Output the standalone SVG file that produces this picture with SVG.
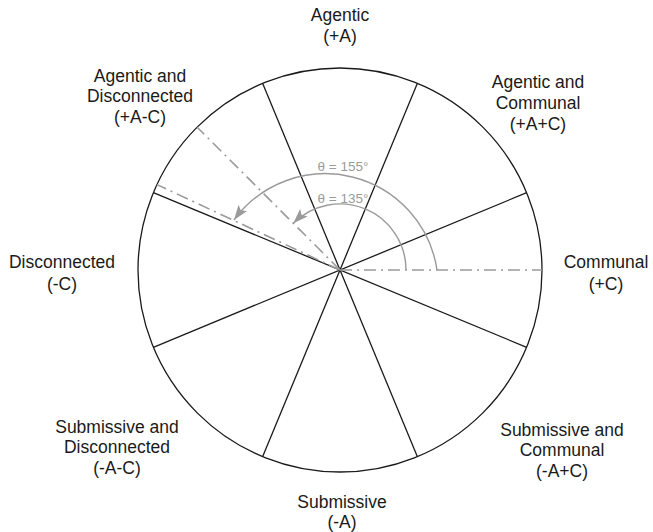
<svg xmlns="http://www.w3.org/2000/svg" width="653" height="532" viewBox="0 0 653 532">
<style>
.lbl{font-family:"Liberation Sans",Arial,sans-serif;font-size:17.5px;fill:#1a1a1a;text-anchor:middle}
.th{font-family:"Liberation Sans",Arial,sans-serif;font-size:13.5px;fill:#9a9a9a;text-anchor:middle}
.sec{stroke:#1a1a1a;stroke-width:1.3;fill:none}
.dd{stroke:#9a9a9a;stroke-width:1.6;fill:none;stroke-dasharray:12 5 2 5}
.arc{stroke:#9a9a9a;stroke-width:1.4;fill:none;marker-end:url(#ah)}
</style>
<defs>
<marker id="ah" markerUnits="userSpaceOnUse" markerWidth="16" markerHeight="12" refX="14" refY="5" orient="auto" viewBox="0 0 15 10">
<path d="M0,0 L14,5 L0,10 L3,5 Z" fill="#9a9a9a"/>
</marker>
</defs>
<rect width="653" height="532" fill="#fff"/>
<g id="wheel">
<circle cx="340" cy="270" r="202" class="sec" stroke-width="1.5"/>
<line x1="526.62" y1="192.70" x2="153.38" y2="347.30" class="sec"/>
<line x1="417.30" y1="83.38" x2="262.70" y2="456.62" class="sec"/>
<line x1="262.70" y1="83.38" x2="417.30" y2="456.62" class="sec"/>
<line x1="153.38" y1="192.70" x2="526.62" y2="347.30" class="sec"/>
</g>
<g id="connectors">
<line x1="340" y1="270" x2="542" y2="270" class="dd"/>
<line x1="340" y1="270" x2="197.2" y2="127.2" class="dd"/>
<line x1="340" y1="270" x2="157" y2="184.6" class="dd"/>
<path d="M406,270 A66,66 0 0 0 293.3,223.3" class="arc"/>
<path d="M437,270 A113,113 0 0 0 234,220" class="arc"/>
</g>
<g id="theta-labels">
<text x="343" y="171" class="th">θ = 155°</text>
<text x="343" y="203" class="th">θ = 135°</text>
</g>
<g id="n-agentic"><text class="lbl" x="340" y="21">Agentic</text><text class="lbl" x="340" y="42">(+A)</text></g>
<g id="n-agentic-communal"><text class="lbl" x="538" y="88">Agentic and</text><text class="lbl" x="538" y="109">Communal</text><text class="lbl" x="538" y="130">(+A+C)</text></g>
<g id="n-communal"><text class="lbl" x="606" y="268">Communal</text><text class="lbl" x="606" y="290">(+C)</text></g>
<g id="n-submissive-communal"><text class="lbl" x="562" y="436">Submissive and</text><text class="lbl" x="562" y="456">Communal</text><text class="lbl" x="562" y="477">(-A+C)</text></g>
<g id="n-submissive"><text class="lbl" x="342" y="508">Submissive</text><text class="lbl" x="342" y="528">(-A)</text></g>
<g id="n-submissive-disconnected"><text class="lbl" x="117" y="433">Submissive and</text><text class="lbl" x="117" y="453">Disconnected</text><text class="lbl" x="117" y="474">(-A-C)</text></g>
<g id="n-disconnected"><text class="lbl" x="62" y="268">Disconnected</text><text class="lbl" x="62" y="290">(-C)</text></g>
<g id="n-agentic-disconnected"><text class="lbl" x="140" y="82">Agentic and</text><text class="lbl" x="140" y="102">Disconnected</text><text class="lbl" x="140" y="123">(+A-C)</text></g>
</svg>
